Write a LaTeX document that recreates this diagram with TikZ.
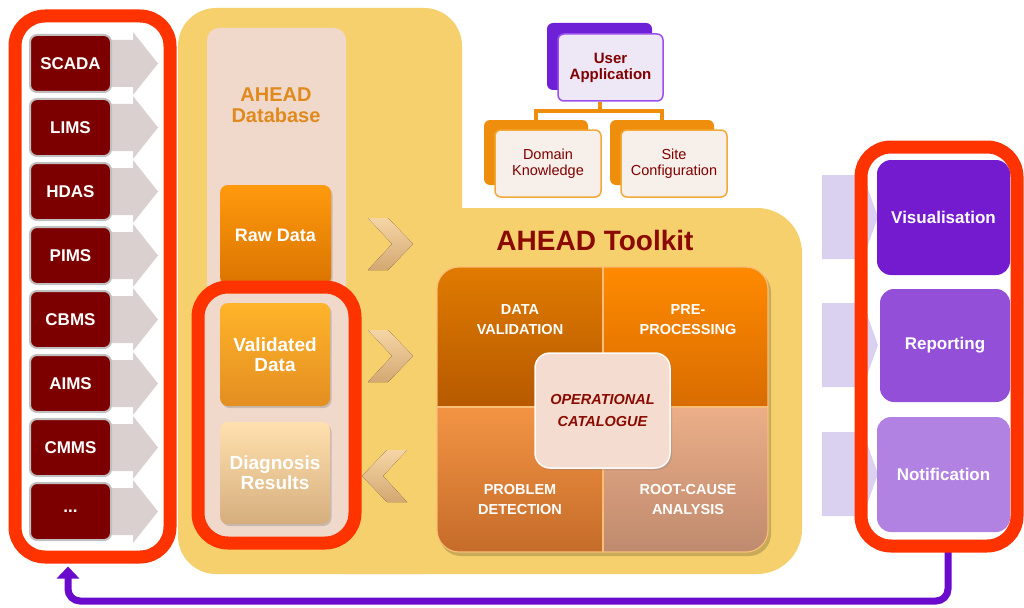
\documentclass[tikz,border=0pt]{standalone}
\usepackage{fontspec}
\setmainfont{Liberation Sans}
\usetikzlibrary{arrows.meta,shadows}

\definecolor{framered}{HTML}{FF3300}
\definecolor{yellowbg}{HTML}{F6D06D}
\definecolor{dbpanel}{HTML}{F0D9CB}
\definecolor{srcred}{HTML}{7D0000}
\definecolor{srcarrow}{HTML}{DBD0D0}
\definecolor{dbtitle}{HTML}{E08A1E}
\definecolor{rawtop}{HTML}{FF9A0E}
\definecolor{rawbot}{HTML}{DA7400}
\definecolor{valtop}{HTML}{FFB42A}
\definecolor{valbot}{HTML}{E38E22}
\definecolor{diatop}{HTML}{FFE1AE}
\definecolor{diabot}{HTML}{D6AE7E}
\definecolor{chevtop}{HTML}{F6D5A5}
\definecolor{chevbot}{HTML}{D3A872}
\definecolor{uaback}{HTML}{6E20D6}
\definecolor{uafront}{HTML}{EEE7F6}
\definecolor{uaborder}{HTML}{9A50EA}
\definecolor{kbback}{HTML}{EE8E0C}
\definecolor{kbfront}{HTML}{F6EFEA}
\definecolor{kbborder}{HTML}{F2A93A}
\definecolor{darkred}{HTML}{800000}
\definecolor{titlered}{HTML}{8A0A00}
\definecolor{qTLt}{HTML}{E07A00}
\definecolor{qTLb}{HTML}{B65A00}
\definecolor{qTRt}{HTML}{FF8A00}
\definecolor{qTRb}{HTML}{D86C00}
\definecolor{qBLt}{HTML}{F39444}
\definecolor{qBLb}{HTML}{C56C2A}
\definecolor{qBRt}{HTML}{EBAE88}
\definecolor{qBRb}{HTML}{BF8A6E}
\definecolor{qline}{HTML}{F8BE78}
\definecolor{catfill}{HTML}{F4DDD0}
\definecolor{visA}{HTML}{741ACF}
\definecolor{visB}{HTML}{944FD9}
\definecolor{visC}{HTML}{B282E2}
\definecolor{lavarrow}{HTML}{D9D1EF}
\definecolor{retpurple}{HTML}{6A0ACC}

\tikzset{
  frame/.style={draw=framered, line width=13pt, rounded corners=30pt, inner sep=0pt},
  srcbox/.style={draw=black!25, line width=2pt, fill=srcred, rounded corners=7pt,
    minimum width=81pt, minimum height=57pt, inner sep=0pt, text=white,
    font=\bfseries\fontsize{17}{19}\selectfont},
  dbbox/.style={rounded corners=8pt, minimum width=110pt, inner sep=0pt, text=white,
    align=center, font=\bfseries\fontsize{19}{20}\selectfont,
    drop shadow={opacity=0.35, shadow xshift=1.5pt, shadow yshift=-2pt}},
  chev/.style={top color=chevtop, bottom color=chevbot},
  backcard/.style={rounded corners=6pt, inner sep=0pt},
  frontcard/.style={rounded corners=6pt, inner sep=0pt, line width=1.5pt, align=center,
    text=darkred},
  linkline/.style={draw=kbback, line width=4pt},
  qtext/.style={text=white, align=center, font=\bfseries\fontsize{14.5}{20}\selectfont},
  outbox/.style={rounded corners=14pt, inner sep=0pt, text=white,
    font=\bfseries\fontsize{17}{19}\selectfont},
  srcarr/.style={fill=srcarrow},
  outarr/.style={fill=lavarrow},
  retline/.style={draw=retpurple, line width=7pt, rounded corners=12pt,
    -{Triangle[width=22pt,length=12pt]}}
}

\begin{document}
\begin{tikzpicture}[x=1pt,y=-1pt]
\useasboundingbox (0,0) rectangle (1024,607);
\fill[white] (0,0) rectangle (1024,607);

% yellow backdrop: tall left block plus wide lower block
\fill[yellowbg, rounded corners=38pt] (178,8) rectangle (462,574);
\fill[yellowbg, rounded corners=45pt] (300,208) rectangle (802,574);

% light arrows leading into the output column
\foreach \yc in {217,345,474}
  \fill[outarr] (822,\yc-42) -- (857,\yc-42) -- (857,\yc-58) -- (878,\yc)
    -- (857,\yc+58) -- (857,\yc+42) -- (822,\yc+42) -- cycle;

% frame outlines used as anchors for the feedback line
\node[frame, draw=none, minimum width=155pt, minimum height=541pt] (srcframe) at (92.5,286.5) {};
\node[frame, draw=none, minimum width=156pt, minimum height=399pt] (outframe) at (939,346.5) {};
\coordinate (retR) at ([xshift=9pt]outframe.south);
\coordinate (retL) at ([xshift=-24.5pt]srcframe.south);
\draw[retline] ([yshift=6pt]retR) -- (retR |- 0,601) -- (retL |- 0,601) -- ([yshift=-3pt]retL);

% data sources
\node[frame, fill=white, minimum width=155pt, minimum height=541pt] at (92.5,286.5) {};
\foreach \i in {0,1,2,3,4,5,6,7}{
  \pgfmathsetmacro{\yt}{35+64*\i}
  \fill[srcarr] (105,\yt+5) -- (133,\yt+5) -- (133,\yt-3) -- (158,\yt+28.5)
    -- (133,\yt+60) -- (133,\yt+52) -- (105,\yt+52) -- cycle;
}
\node[srcbox] (src0) at (70.5,63.5) {SCADA};
\node[srcbox] (src1) at (70.5,127.5) {LIMS};
\node[srcbox] (src2) at (70.5,191.5) {HDAS};
\node[srcbox] (src3) at (70.5,255.5) {PIMS};
\node[srcbox] (src4) at (70.5,319.5) {CBMS};
\node[srcbox] (src5) at (70.5,383.5) {AIMS};
\node[srcbox] (src6) at (70.5,447.5) {CMMS};
\node[srcbox] (src7) at (70.5,511.5) {...};

% AHEAD database column
\fill[dbpanel, rounded corners=12pt] (207,28) rectangle (346,537);
\node[text=dbtitle, align=center, font=\bfseries\fontsize{20}{21}\selectfont] (dbtitle) at (276,105)
  {AHEAD\\Database};
\node[dbbox, top color=rawtop, bottom color=rawbot, minimum width=111pt, minimum height=100pt,
  font=\bfseries\fontsize{18}{20}\selectfont] (raw) at (275.5,235) {Raw Data};
\node[frame, fill=dbpanel, minimum width=157pt, minimum height=256pt] (dbframe) at (276.5,415) {};
\node[dbbox, top color=valtop, bottom color=valbot, minimum height=103pt] (valid) at (275,354.5)
  {Validated\\Data};
\node[dbbox, top color=diatop, bottom color=diabot, minimum height=102pt] (diag) at (275,473)
  {Diagnosis\\Results};

% flow chevrons between database and toolkit
\fill[chev] (368,218) -- ++(20,0) -- ++(25,26) -- ++(-25,26) -- ++(-20,0) -- ++(24,-26) -- cycle;
\fill[chev] (368,330) -- ++(20,0) -- ++(25,26) -- ++(-25,26) -- ++(-20,0) -- ++(24,-26) -- cycle;
\fill[chev] (407,450) -- ++(-20,0) -- ++(-25,26) -- ++(25,26) -- ++(20,0) -- ++(-24,-26) -- cycle;

% user application hierarchy
\node[backcard, fill=uaback, minimum width=105pt, minimum height=67pt] (uab) at (599.5,56.5) {};
\node[frontcard, fill=uafront, draw=uaborder, minimum width=105pt, minimum height=67pt,
  font=\bfseries\fontsize{15}{16}\selectfont] (ua) at (610.5,67.5) {User\\Application};
\node[backcard, fill=kbback, minimum width=104pt, minimum height=65pt] (dkb) at (536,152.5) {};
\node[frontcard, fill=kbfront, draw=kbborder, minimum width=106pt, minimum height=67pt,
  font=\fontsize{14.5}{16}\selectfont] (dk) at (548,163.5) {Domain\\Knowledge};
\node[backcard, fill=kbback, minimum width=104pt, minimum height=65pt] (scb) at (662,152.5) {};
\node[frontcard, fill=kbfront, draw=kbborder, minimum width=106pt, minimum height=67pt,
  font=\fontsize{14.5}{16}\selectfont] (sc) at (674,163.5) {Site\\Configuration};
\coordinate (stem) at (uab.south |- ua.south);
\coordinate (fork) at ([yshift=-9pt]stem);
\draw[linkline] (stem) -- (fork);
\draw[linkline] (fork) -| (dkb.north);
\draw[linkline] (fork) -| (scb.north);

% toolkit
\node[text=titlered, font=\bfseries\fontsize{28}{30}\selectfont] (tktitle) at (595,240) {AHEAD Toolkit};
\fill[black, opacity=0.18, rounded corners=22pt] (439,270) rectangle (771,556);
\begin{scope}
  \clip[rounded corners=22pt] (437,267) rectangle (768,552);
  \fill[top color=qTLt, bottom color=qTLb] (437,267) rectangle (603,407);
  \fill[top color=qTRt, bottom color=qTRb] (603,267) rectangle (768,407);
  \fill[top color=qBLt, bottom color=qBLb] (437,407) rectangle (603,552);
  \fill[top color=qBRt, bottom color=qBRb] (603,407) rectangle (768,552);
\end{scope}
\draw[qline, line width=1.5pt] (603,267) -- (603,552);
\draw[qline, line width=1.5pt] (437,407) -- (768,407);
\draw[qline, line width=1.2pt, rounded corners=22pt] (437,267) rectangle (768,552);
\node[qtext] (dv) at (520,320) {DATA\\VALIDATION};
\node[qtext] (pp) at (688,320) {PRE-\\PROCESSING};
\node[qtext] (pd) at (520,500) {PROBLEM\\DETECTION};
\node[qtext] (rc) at (688,500) {ROOT-CAUSE\\ANALYSIS};
\node[fill=catfill, draw=white!85!catfill, line width=1.5pt, rounded corners=15pt,
  minimum width=135pt, minimum height=115pt, inner sep=0pt, text=titlered, align=center,
  font=\bfseries\itshape\fontsize{14.5}{22}\selectfont,
  drop shadow={opacity=0.3, shadow xshift=2pt, shadow yshift=-2pt}] (cat) at (602.5,410.5)
  {OPERATIONAL\\CATALOGUE};

% outputs
\node[frame, minimum width=156pt, minimum height=399pt] at (939,346.5) {};
\node[outbox, fill=visA, minimum width=133pt, minimum height=115pt] (vis) at (943.5,217.5) {Visualisation};
\node[outbox, fill=visB, minimum width=130pt, minimum height=113pt] (rep) at (945,345.5) {Reporting};
\node[outbox, fill=visC, minimum width=133pt, minimum height=115pt] (noti) at (943.5,474.5) {Notification};
\end{tikzpicture}
\end{document}
